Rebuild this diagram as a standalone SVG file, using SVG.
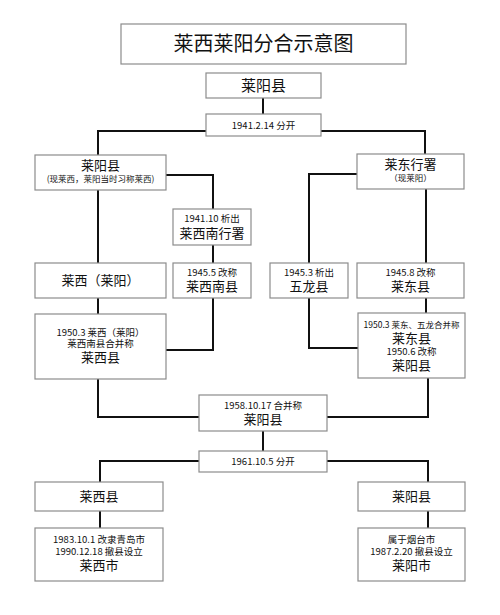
<svg xmlns="http://www.w3.org/2000/svg" width="500" height="615" viewBox="0 0 500 615">
<defs>
<style>
.box{fill:#fff;stroke:#8c8c8c;stroke-width:1.2}
.ln{fill:none;stroke:#111;stroke-width:2}
text{font-family:"Noto Sans CJK SC","Noto Sans",sans-serif;fill:#111;text-anchor:middle}
.t{font-size:20px}
.l{font-size:15px}
.m{font-size:13px}
.s{font-size:9.5px}
.xs{font-size:8.5px}
</style>
</defs>
<rect width="500" height="615" fill="#fff"/>
<g id="connectors">
<path class="ln" d="M263 98V114"/>
<path class="ln" d="M206 131H98V155"/>
<path class="ln" d="M321 131H425V154"/>
<path class="ln" d="M166 175H213V209"/>
<path class="ln" d="M213 245V263"/>
<path class="ln" d="M98 190V263"/>
<path class="ln" d="M98 298V314"/>
<path class="ln" d="M213 298V350H166"/>
<path class="ln" d="M357 174H309V263"/>
<path class="ln" d="M426 189V263"/>
<path class="ln" d="M426 298V313"/>
<path class="ln" d="M309 298V348H358"/>
<path class="ln" d="M98 379V417H199"/>
<path class="ln" d="M428 378V417H327"/>
<path class="ln" d="M263 431V451"/>
<path class="ln" d="M199 461H100V482"/>
<path class="ln" d="M327 461H428V482"/>
<path class="ln" d="M100 511V528"/>
<path class="ln" d="M428 511V528"/>
</g>
<g id="title"><rect class="box" x="121" y="24" width="285" height="40"/><text class="t" x="263.5" y="51">莱西莱阳分合示意图</text></g>
<g id="n-laiyang"><rect class="box" x="206" y="73" width="115" height="25"/><text class="l" x="263.5" y="91">莱阳县</text></g>
<g id="n-1941"><rect class="box" x="206" y="114" width="115" height="22"/><text class="s" x="263.5" y="128.5">1941.2.14 分开</text></g>
<g id="n-laiyang-left"><rect class="box" x="35" y="155" width="131" height="35"/><text class="m" x="100.5" y="170">莱阳县</text><text class="xs" x="100.5" y="182">(现莱西，莱阳当时习称莱西)</text></g>
<g id="n-laidong"><rect class="box" x="357" y="154" width="107" height="35"/><text class="m" x="410.5" y="169">莱东行署</text><text class="xs" x="410.5" y="181">（现莱阳）</text></g>
<g id="n-laixinan-xs"><rect class="box" x="173" y="209" width="78" height="36"/><text class="s" x="212" y="222">1941.10 析出</text><text class="m" x="212" y="238">莱西南行署</text></g>
<g id="n-laixi"><rect class="box" x="35" y="263" width="131" height="35"/><text class="m" x="100.5" y="285">莱西（莱阳）</text></g>
<g id="n-laixinan"><rect class="box" x="173" y="263" width="78" height="35"/><text class="s" x="212" y="276">1945.5 改称</text><text class="m" x="212" y="291">莱西南县</text></g>
<g id="n-wulong"><rect class="box" x="270" y="263" width="78" height="35"/><text class="s" x="309" y="276">1945.3 析出</text><text class="m" x="309" y="291">五龙县</text></g>
<g id="n-laidongxian"><rect class="box" x="357" y="263" width="107" height="35"/><text class="s" x="410.5" y="276">1945.8 改称</text><text class="m" x="410.5" y="291">莱东县</text></g>
<g id="n-laixi1950"><rect class="box" x="35" y="314" width="131" height="65"/><text class="s" x="100.5" y="336">1950.3 莱西（莱阳）</text><text class="s" x="100.5" y="347">莱西南县合并称</text><text class="m" x="100.5" y="362">莱西县</text></g>
<g id="n-laidong1950"><rect class="box" x="358" y="313" width="107" height="65"/><text class="xs" x="411.5" y="328">1950.3 莱东、五龙合并称</text><text class="m" x="411.5" y="343">莱东县</text><text class="s" x="411.5" y="355">1950.6 改称</text><text class="m" x="411.5" y="370">莱阳县</text></g>
<g id="n-1958"><rect class="box" x="199" y="395" width="128" height="36"/><text class="s" x="263" y="409">1958.10.17 合并称</text><text class="m" x="263" y="424">莱阳县</text></g>
<g id="n-1961"><rect class="box" x="199" y="451" width="128" height="21"/><text class="s" x="263" y="465">1961.10.5 分开</text></g>
<g id="n-laixixian"><rect class="box" x="35" y="482" width="128" height="29"/><text class="m" x="99" y="501">莱西县</text></g>
<g id="n-laiyangxian"><rect class="box" x="358" y="482" width="107" height="29"/><text class="m" x="411.5" y="501">莱阳县</text></g>
<g id="n-laixishi"><rect class="box" x="35" y="528" width="128" height="53"/><text class="s" x="99" y="543">1983.10.1 改隶青岛市</text><text class="s" x="99" y="555">1990.12.18 撤县设立</text><text class="m" x="99" y="570">莱西市</text></g>
<g id="n-laiyangshi"><rect class="box" x="358" y="528" width="107" height="53"/><text class="s" x="411.5" y="543">属于烟台市</text><text class="s" x="411.5" y="555">1987.2.20 撤县设立</text><text class="m" x="411.5" y="570">莱阳市</text></g>
</svg>
